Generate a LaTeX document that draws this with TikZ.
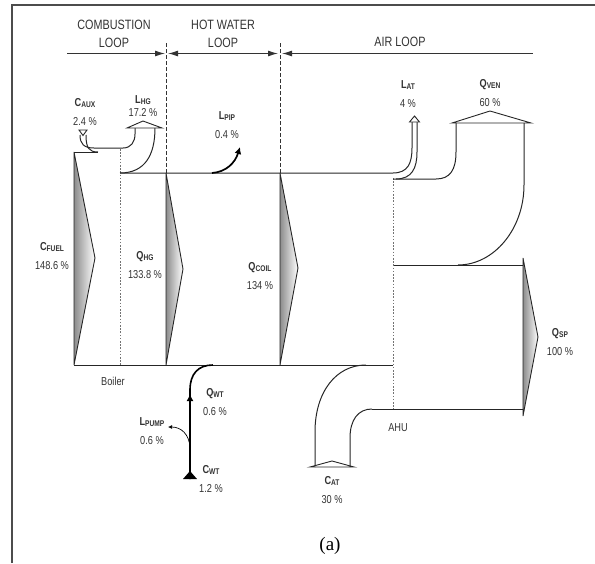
\documentclass[tikz,border=0pt]{standalone}
\usepackage{fontspec}
\setmainfont{Liberation Sans}
\newfontfamily\condfont{Liberation Sans}[FakeStretch=0.8]
\newfontfamily\capfont{Liberation Serif}
\usetikzlibrary{arrows.meta}
\newcommand{\flowlbl}[2]{\textbf{#1}\raisebox{-0.8pt}{\fontsize{8.3}{9}\selectfont\bfseries #2}}

\begin{document}
\begin{tikzpicture}[
  x=1pt,
  y=-1pt,
  border/.style={draw=black!70, line width=1.2pt},
  flow/.style={draw=black!85, line width=1pt},
  loopline/.style={draw=black!80, line width=1.1pt},
  divider/.style={draw=black!80, line width=0.9pt, dash pattern=on 3.5pt off 2.5pt},
  unitline/.style={draw=black!55, line width=0.8pt, dash pattern=on 1.6pt off 1.6pt},
  bigarrow/.style={draw=black!85, line width=0.9pt, left color=black!45, right color=white},
  hat/.style={draw=black!85, line width=0.9pt, fill=white},
  pipearrow/.style={line width=1.7pt, -{Latex[length=7pt,width=7pt]}},
  hdr/.style={font=\condfont\fontsize{13.5}{18}\selectfont, text=black!80, align=center},
  lbl/.style={font=\condfont\fontsize{11.5}{19}\selectfont, text=black!80, align=center, inner sep=0pt},
  loophead/.tip={Latex[length=10pt,width=6pt]},
]
\useasboundingbox (0,0) rectangle (595,563);
\draw[border] (12,563) -- (12,5) -- (595,5);

\node[hdr] (comb) at (114,34) {COMBUSTION\\LOOP};
\node[hdr] (hotwater) at (223,34) {HOT WATER\\LOOP};
\node[hdr] (air) at (400,42) {AIR LOOP};

\coordinate (d1top) at (166,43);
\coordinate (d1bot) at (166,173);
\coordinate (d2top) at (280,43);
\coordinate (d2bot) at (280,173);
\draw[divider] (d1top) -- (d1bot);
\draw[divider] (d2top) -- (d2bot);
\coordinate (combL) at (67,53.5);
\coordinate (combR) at (165,53.5);
\coordinate (hotL) at (168,53.5);
\coordinate (hotR) at (278,53.5);
\coordinate (airL) at (282,53.5);
\coordinate (airR) at (533,53.5);
\draw[loopline, -loophead] (combL) -- (combR);
\draw[loopline, loophead-loophead] (hotL) -- (hotR);
\draw[loopline, loophead-] (airL) -- (airR);

\draw[bigarrow] (74,152) -- (95,258) -- (74,365) -- cycle;
\draw[bigarrow] (166,173) -- (183,269) -- (166,365) -- cycle;
\draw[bigarrow] (280,173) -- (298,268) -- (280,365) -- cycle;
\draw[bigarrow] (523,258) -- (538,337) -- (523,416) -- cycle;

\draw[unitline] (120,149) -- (120,365);
\draw[unitline] (393,178) -- (393,409);

\draw[flow] (74,152) -- (98,152);
\draw[flow] (86,135) .. controls (86,148) and (89,152) .. (98,152);
\draw[flow] (80,135) .. controls (80,144) and (84,148) .. (94,148) -- (123,148)
  .. controls (131,148) and (135,142) .. (135,134) -- (135,128);
\draw[flow] (120,173) .. controls (145,173) and (155,155) .. (155,128);
\draw[hat] (127,128) -- (143,121) -- (162,128) -- cycle;
\draw[hat] (79,130) -- (87,130) -- (83,135.5) -- cycle;

\draw[flow] (120,173) -- (393,173) .. controls (408,173) and (412,163) .. (412,148) -- (412,122);
\draw[flow] (74,365) -- (393,365);
\draw[flow] (396,179) .. controls (412,179) and (417,168) .. (417,152) -- (417,122);
\draw[flow] (393,179) -- (436,179) .. controls (450,179) and (456,170) .. (456,152) -- (456,123);
\draw[hat] (409.5,122) -- (414.5,116) -- (419.5,122) -- cycle;
\draw[hat] (452,123) -- (490,111) -- (531,123) -- cycle;
\draw[flow] (524,123) -- (524,185) .. controls (524,229) and (494,265) .. (458,265);
\draw[flow] (394,265) -- (523,265);
\draw[flow] (372,409) -- (523,409);
\draw[flow] (366,365) .. controls (336,365) and (315,392) .. (315,432) -- (315,467);
\draw[flow] (372,409) .. controls (358,409) and (350,420) .. (350,438) -- (350,467);
\draw[hat] (310,467) -- (332,461) -- (354,467) -- cycle;

\coordinate (pipstart) at (212,173);
\coordinate (piptip) at (240,147);
\draw[pipearrow] (pipstart) .. controls (226,172) and (235,163) .. (piptip);
\coordinate (wtin) at (190,479);
\coordinate (wtout) at (213,365);
\draw[line width=1.6pt] (wtin) -- (190,390) .. controls (190,374) and (198,365) .. (wtout);
\draw[pipearrow] (190,410) -- (190,394);
\coordinate (pumpstart) at (190,447);
\coordinate (pumptip) at (168,427);
\draw[line width=0.7pt, -{Latex[length=4pt,width=4pt]}] (pumpstart) .. controls (189,434) and (181,427) .. (pumptip);
\fill (183,479) -- (197,479) -- (190,471) -- cycle;

\node[lbl] (cfuel) at (52,256.5) {\flowlbl{C}{FUEL}\\148.6 \%};
\node[lbl] (caux) at (85,112) {\flowlbl{C}{AUX}\\2.4 \%};
\node[lbl] (lhg) at (143,106) {\flowlbl{L}{HG}\\[-6pt]17.2 \%};
\node[lbl] (qhg) at (145,265.5) {\flowlbl{Q}{HG}\\133.8 \%};
\node[lbl] (lpip) at (227,125) {\flowlbl{L}{PIP}\\0.4 \%};
\node[lbl] (qcoil) at (260,276.5) {\flowlbl{Q}{COIL}\\134 \%};
\node[lbl] (qwt) at (215,402.5) {\flowlbl{Q}{WT}\\0.6 \%};
\node[lbl] (lpump) at (152,431) {\flowlbl{L}{PUMP}\\0.6 \%};
\node[lbl] (cwt) at (211,479.5) {\flowlbl{C}{WT}\\1.2 \%};
\node[lbl] (cat) at (332,490.5) {\flowlbl{C}{AT}\\30 \%};
\node[lbl] (lat) at (408,94.5) {\flowlbl{L}{AT}\\4 \%};
\node[lbl] (qven) at (490,93) {\flowlbl{Q}{VEN}\\60 \%};
\node[lbl] (qsp) at (560,342.5) {\flowlbl{Q}{SP}\\100 \%};
\node[lbl] (boiler) at (113,381) {Boiler};
\node[lbl] (ahu) at (398,428) {AHU};
\node[font=\capfont\fontsize{19}{22}\selectfont] (caption) at (330,546) {(a)};
\end{tikzpicture}
\end{document}
